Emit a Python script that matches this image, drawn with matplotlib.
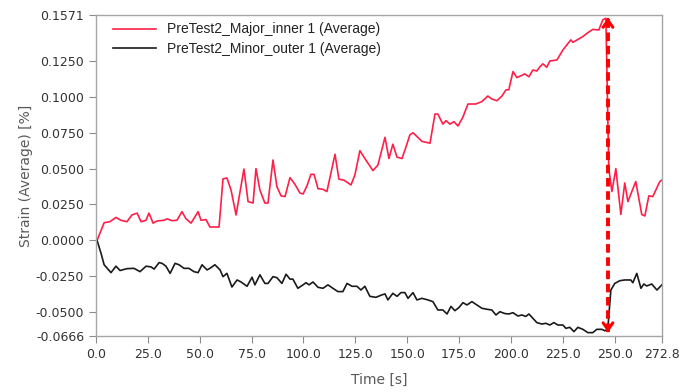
import matplotlib
matplotlib.use("Agg")
import matplotlib.pyplot as plt

# Major (inner) strain
t_major = [0.5, 3.9, 6.7, 9.6, 12.0, 14.9, 17.3, 19.8, 21.7, 24.1, 25.5, 27.5, 29.4, 32.8,
           34.2, 36.6, 39.0, 41.4, 43.4, 45.8, 49.2, 50.6, 53.0, 54.9, 59.3, 61.2, 63.1,
           65.1, 67.5, 71.3, 73.3, 75.7, 77.1, 79.0, 81.4, 82.9, 85.3, 87.2, 89.2, 91.1,
           93.5, 95.9, 98.3, 99.8, 101.7, 103.6, 105.1, 107.0, 109.4, 111.3, 115.2, 117.1,
           119.5, 122.9, 124.8, 127.2, 129.6, 133.5, 135.9, 139.3, 141.2, 143.1, 145.1,
           147.5, 149.4, 151.3, 152.8, 157.1, 161.0, 163.4, 164.8, 167.2, 168.7, 170.6,
           172.5, 174.5, 176.9, 179.3, 183.1, 186.0, 188.9, 190.8, 193.3, 195.7, 197.6,
           199.0, 201.0, 202.9, 205.3, 206.7, 208.7, 210.6, 212.5, 214.0, 215.4, 217.3,
           218.8, 222.2, 225.1, 228.9, 229.9, 232.3, 234.7, 237.1, 239.5, 242.4, 244.3,
           245.8, 247.2, 248.7, 250.6, 253.0, 254.9, 256.4, 260.2, 263.1, 264.6, 266.5,
           268.4, 271.8, 272.8]
major = [0.0, 0.0123, 0.013, 0.016, 0.014, 0.013, 0.0177, 0.019, 0.013, 0.014, 0.019, 0.012,
         0.0135, 0.014, 0.015, 0.0137, 0.014, 0.020, 0.015, 0.012, 0.020, 0.014, 0.0145,
         0.0093, 0.0093, 0.0428, 0.0435, 0.035, 0.0177, 0.0497, 0.027, 0.026, 0.050, 0.035,
         0.026, 0.026, 0.056, 0.0374, 0.031, 0.0305, 0.0437, 0.039, 0.033, 0.0323, 0.038,
         0.046, 0.046, 0.036, 0.0356, 0.034, 0.060, 0.0426, 0.042, 0.0386, 0.0456, 0.0625,
         0.057, 0.0486, 0.0525, 0.0718, 0.057, 0.067, 0.058, 0.057, 0.065, 0.0735, 0.075,
         0.069, 0.0677, 0.088, 0.088, 0.081, 0.0834, 0.081, 0.0827, 0.0797, 0.086, 0.095,
         0.095, 0.0967, 0.1006, 0.0985, 0.0973, 0.1006, 0.1048, 0.105, 0.1176, 0.1134, 0.115,
         0.116, 0.114, 0.1187, 0.118, 0.121, 0.123, 0.1206, 0.125, 0.1257, 0.1327, 0.1397,
         0.138, 0.140, 0.142, 0.1447, 0.147, 0.1466, 0.1536, 0.1548, 0.050, 0.034, 0.050,
         0.018, 0.040, 0.027, 0.041, 0.018, 0.017, 0.031, 0.0305, 0.041, 0.042]

# Minor (outer) strain
t_minor = [0.5, 2.4, 3.9, 7.2, 9.6, 11.6, 14.9, 18.3, 21.2, 24.1, 26.5, 28.0, 30.4, 31.8,
           33.7, 35.7, 38.1, 40.0, 42.4, 44.8, 47.2, 49.2, 51.1, 53.5, 54.9, 57.3, 59.8,
           61.2, 63.1, 65.5, 68.0, 69.9, 72.8, 75.2, 76.6, 79.0, 81.4, 82.9, 85.3, 87.2,
           89.6, 91.6, 93.5, 94.9, 97.3, 99.8, 101.2, 102.7, 104.6, 107.0, 109.4, 111.8,
           114.2, 116.6, 119.0, 121.0, 123.4, 125.8, 127.7, 129.6, 132.0, 134.9, 137.8,
           139.3, 140.7, 143.1, 145.1, 147.0, 148.9, 150.4, 152.8, 154.7, 157.1, 160.0,
           162.4, 164.8, 167.2, 169.2, 171.1, 173.0, 174.9, 176.9, 178.8, 181.2, 183.6,
           186.0, 188.4, 190.8, 192.8, 194.7, 197.1, 199.0, 201.0, 203.4, 205.3, 207.2,
           208.7, 210.6, 212.5, 214.9, 216.9, 218.8, 220.7, 222.7, 225.1, 226.5, 228.4,
           230.4, 232.3, 234.7, 237.1, 239.5, 241.4, 243.9, 245.3, 246.7, 248.2, 250.1,
           252.5, 254.9, 257.8, 258.8, 260.7, 262.7, 264.1, 265.5, 267.9, 270.4, 272.8]
minor = [0.0, -0.009, -0.017, -0.0225, -0.018, -0.021, -0.0197, -0.0195, -0.0218, -0.018,
         -0.0185, -0.020, -0.0155, -0.016, -0.018, -0.023, -0.016, -0.017, -0.0195, -0.0195,
         -0.0218, -0.0225, -0.017, -0.0206, -0.0195, -0.017, -0.0206, -0.0253, -0.023,
         -0.0325, -0.0276, -0.029, -0.032, -0.0257, -0.031, -0.024, -0.030, -0.030, -0.0253,
         -0.026, -0.030, -0.0236, -0.027, -0.027, -0.0334, -0.031, -0.0295, -0.031, -0.029,
         -0.0327, -0.0334, -0.031, -0.0334, -0.0357, -0.0357, -0.030, -0.032, -0.032,
         -0.0346, -0.032, -0.039, -0.0397, -0.038, -0.0373, -0.0415, -0.0369, -0.039,
         -0.0364, -0.0364, -0.0404, -0.0364, -0.0415, -0.0404, -0.0415, -0.0427, -0.0485,
         -0.0485, -0.0513, -0.046, -0.049, -0.0469, -0.0434, -0.045, -0.0427, -0.045,
         -0.0473, -0.048, -0.0485, -0.052, -0.0497, -0.051, -0.0513, -0.0504, -0.0527,
         -0.052, -0.053, -0.0513, -0.0543, -0.0573, -0.0583, -0.0578, -0.059, -0.0573,
         -0.059, -0.059, -0.0613, -0.0606, -0.0636, -0.0606, -0.062, -0.0643, -0.0643,
         -0.062, -0.062, -0.063, -0.062, -0.0346, -0.030, -0.0281, -0.0276, -0.0276,
         -0.0295, -0.023, -0.0334, -0.0304, -0.0318, -0.0304, -0.0346, -0.031]

x_ticks = [0.0, 25.0, 50.0, 75.0, 100.0, 125.0, 150.0, 175.0, 200.0, 225.0, 250.0, 272.8]
y_ticks = [-0.0666, -0.05, -0.025, 0.0, 0.025, 0.05, 0.075, 0.1, 0.125, 0.1571]
t_marker = 246.8

fig = plt.figure(figsize=(6.96, 3.92), dpi=100)
ax = fig.add_axes([0.138, 0.143, 0.813, 0.819])

ax.plot(t_major, major, color='#ff1f48', lw=1.2, label='PreTest2_Major_inner 1 (Average)')
ax.plot(t_minor, minor, color='#1a1a1a', lw=1.2, label='PreTest2_Minor_outer 1 (Average)')

# dashed red marker with arrow heads at both ends
ax.plot([t_marker, t_marker], [y_ticks[0] + 0.003, y_ticks[-1] - 0.003],
        color='red', lw=2.8, ls=(0, (2.2, 1.2)), zorder=5)
for y0, y1 in [(y_ticks[-1] - 0.006, y_ticks[-1]), (y_ticks[0] + 0.006, y_ticks[0] + 0.0005)]:
    ax.annotate('', xy=(t_marker, y1), xytext=(t_marker, y0),
                arrowprops=dict(arrowstyle='->,head_length=0.5,head_width=0.35',
                                color='red', lw=2.2), zorder=6)

ax.set_xlim(0, 272.8)
ax.set_ylim(y_ticks[0], y_ticks[-1])
ax.set_xticks(x_ticks)
ax.set_xticklabels([f'{v:.1f}' for v in x_ticks])
ax.set_yticks(y_ticks)
ax.set_yticklabels([f'{v:.4f}' for v in y_ticks])
ax.tick_params(direction='out', length=5, color='#8c8c8c', labelsize=9, labelcolor='#333333')

for s in ax.spines.values():
    s.set_color('#a6a6a6')
    s.set_linewidth(1.0)

ax.set_xlabel('Time [s]', fontsize=10, color='#595959', labelpad=9)
ax.set_ylabel('Strain (Average) [%]', fontsize=10, color='#595959', labelpad=2)

leg = ax.legend(loc='upper left', frameon=False, handlelength=3.1,
                prop={'family': 'Liberation Sans', 'size': 10},
                bbox_to_anchor=(0.005, 1.02), borderaxespad=0.6, labelspacing=0.4)
for txt in leg.get_texts():
    txt.set_color('#222222')

fig.savefig('out.png', dpi=100)
